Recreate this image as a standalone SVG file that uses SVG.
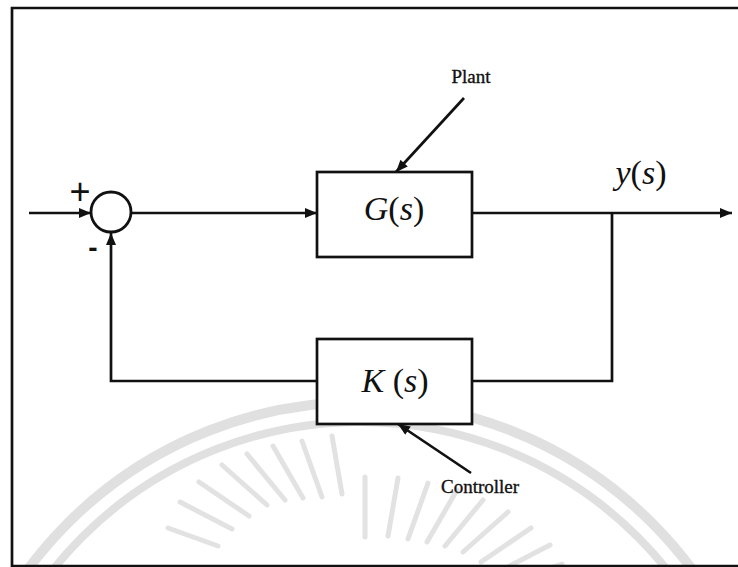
<svg xmlns="http://www.w3.org/2000/svg" width="738" height="567" viewBox="0 0 738 567">
<style>
.ln{fill:none;stroke:#111;stroke-width:2.7}
.box{fill:#fff;stroke:#111;stroke-width:2.7}
.wm{fill:none;stroke:#e0e0e0}
.math{font-family:"Liberation Serif","Times New Roman",serif;font-size:34px;fill:#111}
.lbl{font-family:"Liberation Serif","Times New Roman",serif;font-size:19px;fill:#111;stroke:#111;stroke-width:0.35}
.sgn{font-family:"Liberation Sans",Arial,sans-serif;fill:#111}
</style>
<defs>
<marker id="ah" viewBox="0 0 12 10" refX="12" refY="5" markerWidth="13" markerHeight="10" markerUnits="userSpaceOnUse" orient="auto">
<path d="M0,0 L12,5 L0,10 z" fill="#111"/>
</marker>
</defs>
<rect width="738" height="567" fill="#fff"/>
<g id="watermark">
<circle class="wm" cx="360" cy="815" r="413" stroke-width="10"/>
<circle class="wm" cx="360" cy="815" r="393" stroke-width="8"/>
<g stroke="#e2e2e2" stroke-width="5" stroke-linecap="round">
<path d="M365,600 m-197,-72 l50,18 M365,600 m-185,-98 l52,27 M365,600 m-166,-118 l50,34 M365,600 m-143,-135 l45,40 M365,600 m-118,-146 l38,46 M365,600 m-92,-154 l30,52 M365,600 m-63,-159 l20,56 M365,600 m-33,-164 l10,58 M365,600 m0,-123 l0,60 M365,600 m33,-122 l-10,58 M365,600 m63,-117 l-20,56 M365,600 m92,-110 l-30,52 M365,600 m118,-100 l-38,46 M365,600 m143,-88 l-45,40 M365,600 m166,-72 l-50,34 M365,600 m185,-55 l-52,27 M365,600 m197,-36 l-50,18"/>
</g>
</g>
<path class="ln" d="M12,567 L12,8 L738,8" stroke-width="3"/>
<line class="ln" x1="12" y1="566" x2="738" y2="566" stroke-width="3"/>
<g id="connectors">
<line class="ln" x1="29" y1="213" x2="91" y2="213" marker-end="url(#ah)"/>
<line class="ln" x1="131" y1="213" x2="317" y2="213" marker-end="url(#ah)"/>
<line class="ln" x1="472" y1="213" x2="732" y2="213" marker-end="url(#ah)"/>
<polyline class="ln" points="612,213 612,381 472,381"/>
<polyline class="ln" points="317,381 111,381 111,233" marker-end="url(#ah)"/>
<line class="ln" x1="464" y1="98" x2="396" y2="172" marker-end="url(#ah)"/>
<line class="ln" x1="471" y1="473" x2="398" y2="424" marker-end="url(#ah)"/>
</g>
<g id="sum">
<circle cx="111" cy="212" r="20" fill="#fff" stroke="#111" stroke-width="2.8"/>
<text class="sgn" x="80" y="204" font-size="36" text-anchor="middle">+</text>
<text class="sgn" x="93" y="257" font-size="28" font-weight="bold" text-anchor="middle">-</text>
</g>
<g id="plant">
<rect class="box" x="317" y="172" width="155" height="85"/>
<text class="math" x="394" y="220" text-anchor="middle"><tspan font-style="italic">G</tspan>(<tspan font-style="italic">s</tspan>)</text>
</g>
<g id="controller">
<rect class="box" x="317" y="339" width="155" height="85"/>
<text class="math" x="395" y="392" text-anchor="middle"><tspan font-style="italic">K</tspan> (<tspan font-style="italic">s</tspan>)</text>
</g>
<g id="labels">
<text class="lbl" x="471" y="83" text-anchor="middle">Plant</text>
<text class="lbl" x="441" y="493" font-size="20">Controller</text>
<text class="math" x="641" y="184" text-anchor="middle"><tspan font-style="italic">y</tspan>(<tspan font-style="italic">s</tspan>)</text>
</g>
</svg>
